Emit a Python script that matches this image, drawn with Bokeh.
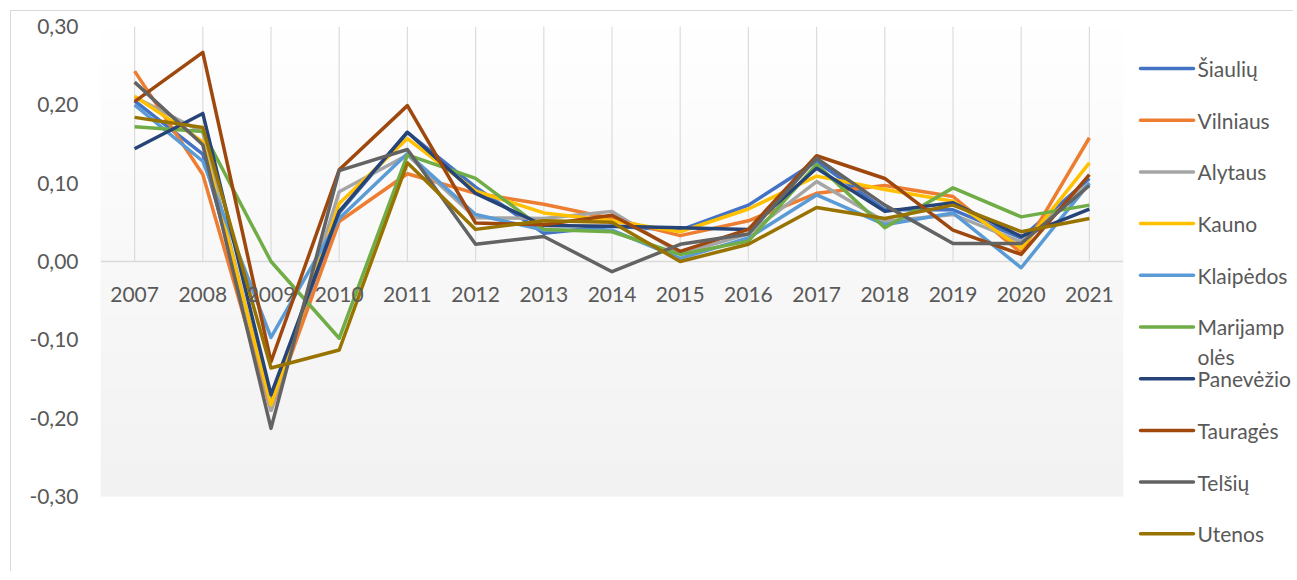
import numpy as np
from bokeh.plotting import figure
from bokeh.layouts import row
from bokeh.models import Range1d, FixedTicker, CustomJSTickFormatter
from bokeh.core.properties import value
from bokeh.embed import file_html
from bokeh.resources import INLINE

years = list(range(2007, 2022))
year_labels = [str(y) for y in years]
y_ticks = [-0.3, -0.2, -0.1, 0.0, 0.1, 0.2, 0.3]

names = ["Šiaulių", "Vilniaus", "Alytaus", "Kauno", "Klaipėdos",
         "Marijampolės", "Panevėžio", "Tauragės", "Telšių", "Utenos"]
legend_labels = ["Šiaulių", "Vilniaus", "Alytaus", "Kauno", "Klaipėdos",
                 "Marijamp\nolės", "Panevėžio", "Tauragės", "Telšių", "Utenos"]
colors = ["#4472C4", "#ED7D31", "#A5A5A5", "#FFC000", "#5B9BD5",
          "#70AD47", "#264478", "#9E480E", "#636363", "#997300"]

siauliu = [0.205, 0.137, -0.175, 0.062, 0.165, 0.095, 0.036, 0.045, 0.040, 0.072, 0.128, 0.066, 0.066, 0.030, 0.106]
vilniaus = [0.243, 0.111, -0.190, 0.051, 0.112, 0.087, 0.073, 0.055, 0.033, 0.052, 0.087, 0.097, 0.083, 0.011, 0.158]
alytaus = [0.210, 0.165, -0.190, 0.089, 0.136, 0.056, 0.055, 0.064, 0.010, 0.035, 0.102, 0.051, 0.060, 0.025, 0.100]
kauno = [0.211, 0.153, -0.183, 0.074, 0.157, 0.090, 0.062, 0.052, 0.038, 0.067, 0.109, 0.092, 0.077, 0.017, 0.126]
klaipedos = [0.200, 0.128, -0.097, 0.055, 0.138, 0.060, 0.040, 0.040, 0.004, 0.030, 0.085, 0.047, 0.062, -0.008, 0.100]
marijampoles = [0.172, 0.166, 0.000, -0.098, 0.136, 0.106, 0.041, 0.038, 0.009, 0.026, 0.124, 0.043, 0.094, 0.057, 0.072]
panevezio = [0.144, 0.189, -0.170, 0.064, 0.165, 0.087, 0.046, 0.045, 0.043, 0.041, 0.119, 0.064, 0.075, 0.032, 0.067]
taurages = [0.204, 0.267, -0.128, 0.117, 0.199, 0.049, 0.047, 0.059, 0.013, 0.041, 0.135, 0.106, 0.040, 0.009, 0.111]
telsiu = [0.229, 0.149, -0.213, 0.116, 0.143, 0.022, 0.032, -0.013, 0.022, 0.035, 0.132, 0.072, 0.023, 0.023, 0.097]
utenos = [0.184, 0.171, -0.136, -0.113, 0.126, 0.041, 0.052, 0.050, 0.000, 0.022, 0.069, 0.055, 0.072, 0.038, 0.055]

series = [siauliu, vilniaus, alytaus, kauno, klaipedos,
          marijampoles, panevezio, taurages, telsiu, utenos]

FONT = "Lato"
TEXT_COLOR = "#595959"
GRID_COLOR = "#dcdcdc"

x0, x1 = years[0] - 0.5, years[-1] + 0.5
y0, y1 = y_ticks[0], y_ticks[-1]

# pixel layout
FRAME_TOP = 15          # below the chart border
FRAME_H = 533           # frame height (extends below the value area for the legend)
VALUE_H = 470           # pixels used by -0.30 .. 0.30
px_per_unit = VALUE_H / (y1 - y0)
y_bottom = y1 - FRAME_H / px_per_unit   # range start so that -0.30 lands at the value-area bottom

p = figure(width=1122, height=560, output_backend="svg", toolbar_location=None,
           x_range=Range1d(x0, x1), y_range=Range1d(y_bottom, y1),
           min_border_left=89, min_border_right=10, min_border_top=FRAME_TOP,
           min_border_bottom=560 - FRAME_TOP - FRAME_H)
p.outline_line_color = None
p.xgrid.visible = False
p.ygrid.visible = False
p.xaxis.visible = False
p.background_fill_color = "white"
p.border_fill_color = "white"

# gradient background of the plot area
n = 200
shade = np.linspace(242, 255, n).astype(np.uint8)
img = np.zeros((n, 2), dtype=np.uint32)
view = img.view(dtype=np.uint8).reshape((n, 2, 4))
view[:, :, 0] = shade[:, None]
view[:, :, 1] = shade[:, None]
view[:, :, 2] = shade[:, None]
view[:, :, 3] = 255
p.image_rgba(image=[img], x=x0, y=y0, dw=x1 - x0, dh=y1 - y0)

# vertical gridlines above zero and zero line
p.segment(x0=years, y0=[0] * len(years), x1=years, y1=[y1] * len(years),
          line_color=GRID_COLOR, line_width=1.2)
p.segment(x0=[x0], y0=[0], x1=[x1], y1=[0], line_color="#d9d9d9", line_width=1.5)

for vals, c in zip(series, colors):
    p.line(years, vals, line_color=c, line_width=3.5, line_join="round")

# category labels along the zero line
p.text(x=years, y=[0] * len(years), text=year_labels, text_align="center",
       text_baseline="middle", y_offset=33, text_color=TEXT_COLOR,
       text_font=value(FONT), text_font_size="21px")

p.yaxis.ticker = FixedTicker(ticks=y_ticks)
p.yaxis.formatter = CustomJSTickFormatter(
    code="var t = Math.abs(tick) < 1e-9 ? 0 : tick; return t.toFixed(2).replace('.', ',');")
p.yaxis.axis_line_color = None
p.yaxis.major_tick_line_color = None
p.yaxis.minor_tick_line_color = None
p.yaxis.major_tick_in = 0
p.yaxis.major_tick_out = 0
p.yaxis.major_label_standoff = 22
p.yaxis.major_label_text_font = FONT
p.yaxis.major_label_text_font_size = "21px"
p.yaxis.major_label_text_color = TEXT_COLOR

# legend panel (its frame is aligned with the main frame by the row layout)
q = figure(width=160, height=560, output_backend="svg", toolbar_location=None,
           x_range=Range1d(0, 160), y_range=Range1d(FRAME_H, 0),
           min_border_left=0, min_border_right=0, min_border_top=FRAME_TOP,
           min_border_bottom=560 - FRAME_TOP - FRAME_H)
q.outline_line_color = None
q.axis.visible = False
q.grid.visible = False
q.border_fill_color = "white"
q.background_fill_color = "white"

first, step, lh = 42, 51.7, 29
ly = [first + i * step for i in range(len(names))]
ly_text = [y + (lab.count("\n")) * lh / 2 for y, lab in zip(ly, legend_labels)]
q.segment(x0=[7] * len(names), y0=ly, x1=[60] * len(names), y1=ly,
          line_color=colors, line_width=3.5, line_cap="round")
q.text(x=[64] * len(names), y=ly_text, text=legend_labels, text_align="left",
       text_baseline="middle", text_color=TEXT_COLOR, text_font=value(FONT),
       text_font_size="21px", text_line_height=1.18)

layout = row(p, q, margin=(10, 0, 0, 10),
             styles={"border-top": "1px solid #d9d9d9", "border-left": "1px solid #d9d9d9"})

open("out.html", "w").write(file_html(layout, INLINE))
